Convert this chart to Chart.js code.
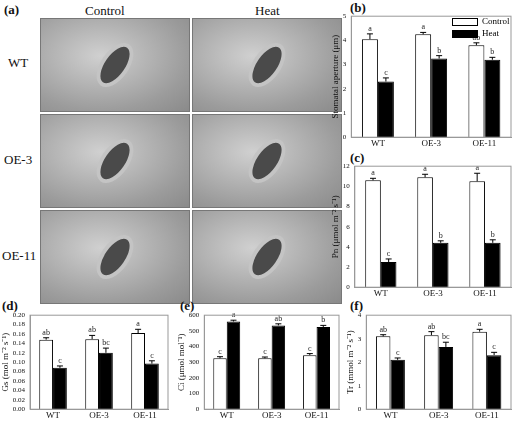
<!DOCTYPE html>
<html>
<head>
<meta charset="utf-8">
<script src="https://cdn.jsdelivr.net/npm/chart.js@4/dist/chart.umd.min.js"></script>
<style>
  body { margin: 0; background: #fff; font-family: "Liberation Serif", serif; }
  #wrap { position: relative; width: 520px; height: 422px; overflow: hidden; }
  .box { position: absolute; }
  .lbl { position: absolute; font-size: 13px; color: #111; font-family: "Liberation Serif", serif; }
  .pl { position: absolute; font-size: 13px; font-weight: bold; color: #111; font-family: "Liberation Serif", serif; }
  .img { position: absolute; width: 148px; height: 92px; border: 1px solid #777;
         background: radial-gradient(ellipse at 40% 40%, #d0d0d0, #9c9c9c 70%, #8a8a8a); }
  .img::after { content: ""; position: absolute; left: 50%; top: 50%; width: 20px; height: 42px;
         margin: -25px 0 0 -14px; border-radius: 50%; border: 4px solid #c4c4c4;
         background: #4a4a4a; transform: rotate(35deg); }
  .lg { position: absolute; font-size: 9px; font-family: "Liberation Serif", serif; }
  .lg span { display: inline-block; width: 24px; height: 6px; border: 1px solid #000; vertical-align: middle; margin-right: 4px; }
</style>
</head>
<body>
<div id="wrap">
  <div class="pl" style="left:4px;top:2px">(a)</div>
  <div class="lbl" style="left:85px;top:3px">Control</div>
  <div class="lbl" style="left:255px;top:3px">Heat</div>
  <div class="lbl" style="left:8px;top:55px">WT</div>
  <div class="lbl" style="left:4px;top:152px">OE-3</div>
  <div class="lbl" style="left:2px;top:248px">OE-11</div>
  <div class="img" style="left:40px;top:18px"></div>
  <div class="img" style="left:192px;top:18px"></div>
  <div class="img" style="left:40px;top:114px"></div>
  <div class="img" style="left:192px;top:114px"></div>
  <div class="img" style="left:40px;top:210px"></div>
  <div class="img" style="left:192px;top:210px"></div>

  <div class="pl" style="left:350px;top:0px">(b)</div>
  <div class="pl" style="left:350px;top:150px">(c)</div>
  <div class="pl" style="left:2px;top:298px">(d)</div>
  <div class="pl" style="left:180px;top:298px">(e)</div>
  <div class="pl" style="left:350px;top:298px">(f)</div>

  <div class="box" style="left:330px;top:10px;width:185px;height:140px"><canvas id="cb"></canvas></div>
  <div class="box" style="left:330px;top:160px;width:185px;height:140px"><canvas id="cc"></canvas></div>
  <div class="box" style="left:0px;top:309px;width:172px;height:113px"><canvas id="cd"></canvas></div>
  <div class="box" style="left:176px;top:309px;width:167px;height:113px"><canvas id="ce"></canvas></div>
  <div class="box" style="left:345px;top:309px;width:170px;height:113px"><canvas id="cf"></canvas></div>

  <div class="lg" style="left:452px;top:16px"><span style="background:#fff"></span>Control</div>
  <div class="lg" style="left:452px;top:28px"><span style="background:#000"></span>Heat</div>
</div>
<script>
const lines = ['WT', 'OE-3', 'OE-11'];

const apertureCtrl = [4.05, 4.25, 3.8];
const apertureHeat = [2.3, 3.25, 3.2];
const apertureCtrlErr = [0.22, 0.08, 0.1];
const apertureHeatErr = [0.15, 0.12, 0.1];
const apertureCtrlLet = ['a', 'a', 'ab'];
const apertureHeatLet = ['c', 'b', 'b'];

const pnCtrl = [10.6, 10.9, 10.5];
const pnHeat = [2.5, 4.4, 4.4];
const pnCtrlErr = [0.2, 0.3, 0.8];
const pnHeatErr = [0.3, 0.2, 0.3];
const pnCtrlLet = ['a', 'a', 'a'];
const pnHeatLet = ['c', 'b', 'b'];

const gsCtrl = [0.148, 0.149, 0.162];
const gsHeat = [0.088, 0.120, 0.097];
const gsCtrlErr = [0.004, 0.008, 0.008];
const gsHeatErr = [0.004, 0.01, 0.006];
const gsCtrlLet = ['ab', 'ab', 'a'];
const gsHeatLet = ['c', 'bc', 'c'];

const ciCtrl = [325, 325, 345];
const ciHeat = [560, 535, 525];
const ciCtrlErr = [10, 8, 10];
const ciHeatErr = [8, 10, 10];
const ciCtrlLet = ['c', 'c', 'c'];
const ciHeatLet = ['a', 'ab', 'b'];

const trCtrl = [3.1, 3.15, 3.3];
const trHeat = [2.1, 2.65, 2.3];
const trCtrlErr = [0.07, 0.15, 0.1];
const trHeatErr = [0.08, 0.2, 0.12];
const trCtrlLet = ['ab', 'ab', 'a'];
const trHeatLet = ['c', 'bc', 'c'];

const FONT = 'Liberation Serif';

const errPlugin = {
  id: 'err',
  afterDatasetsDraw(chart) {
    const ctx = chart.ctx;
    const y = chart.scales.y;
    ctx.save();
    chart.data.datasets.forEach((ds, di) => {
      chart.getDatasetMeta(di).data.forEach((bar, i) => {
        const top = y.getPixelForValue(ds.data[i] + ds.err[i]);
        ctx.strokeStyle = '#000';
        ctx.lineWidth = 1;
        ctx.beginPath();
        ctx.moveTo(bar.x, bar.y); ctx.lineTo(bar.x, top);
        ctx.moveTo(bar.x - 3, top); ctx.lineTo(bar.x + 3, top);
        ctx.stroke();
        ctx.fillStyle = '#222';
        ctx.font = '8px ' + FONT;
        ctx.textAlign = 'center';
        ctx.fillText(ds.letters[i], bar.x, top - 3);
      });
    });
    const a = chart.chartArea;
    ctx.strokeStyle = '#999';
    ctx.strokeRect(a.left, a.top, a.right - a.left, a.bottom - a.top);
    ctx.restore();
  }
};

function makeChart(id, ctrl, heat, ctrlErr, heatErr, ctrlLet, heatLet, max, step, title, decimals) {
  new Chart(document.getElementById(id), {
    type: 'bar',
    data: {
      labels: lines,
      datasets: [
        { label: 'Control', data: ctrl, err: ctrlErr, letters: ctrlLet, backgroundColor: '#fff', borderColor: '#000', borderWidth: 1, categoryPercentage: 0.6, barPercentage: 1 },
        { label: 'Heat', data: heat, err: heatErr, letters: heatLet, backgroundColor: '#000', borderColor: '#000', borderWidth: 1, categoryPercentage: 0.6, barPercentage: 1 }
      ]
    },
    options: {
      responsive: true, maintainAspectRatio: false, animation: false,
      layout: { padding: { top: 4, right: 4 } },
      plugins: { legend: { display: false }, tooltip: { enabled: false } },
      scales: {
        x: {
          grid: { display: false, drawTicks: false },
          border: { color: '#999' },
          ticks: { color: '#111', font: { family: FONT, size: 9 }, padding: 1 }
        },
        y: {
          min: 0, max: max,
          grid: { display: false, drawTicks: true, tickLength: 3, color: '#999' },
          border: { color: '#999' },
          ticks: { stepSize: step, autoSkip: false, color: '#111', font: { family: FONT, size: 7 }, padding: 2,
                   callback: v => v.toFixed(decimals) },
          title: { display: true, text: title, color: '#111', font: { family: FONT, size: 9 }, padding: 0 }
        }
      }
    },
    plugins: [errPlugin]
  });
}

makeChart('cb', apertureCtrl, apertureHeat, apertureCtrlErr, apertureHeatErr, apertureCtrlLet, apertureHeatLet, 5, 1, 'Stomatal aperture (μm)', 0);
makeChart('cc', pnCtrl, pnHeat, pnCtrlErr, pnHeatErr, pnCtrlLet, pnHeatLet, 12, 2, 'Pn (μmol m⁻² s⁻¹)', 0);
makeChart('cd', gsCtrl, gsHeat, gsCtrlErr, gsHeatErr, gsCtrlLet, gsHeatLet, 0.2, 0.02, 'Gs (mol m⁻² s⁻¹)', 2);
makeChart('ce', ciCtrl, ciHeat, ciCtrlErr, ciHeatErr, ciCtrlLet, ciHeatLet, 600, 100, 'Ci (μmol mol⁻¹)', 0);
makeChart('cf', trCtrl, trHeat, trCtrlErr, trHeatErr, trCtrlLet, trHeatLet, 4, 1, 'Tr (mmol m⁻² s⁻¹)', 0);
</script>
</body>
</html>
